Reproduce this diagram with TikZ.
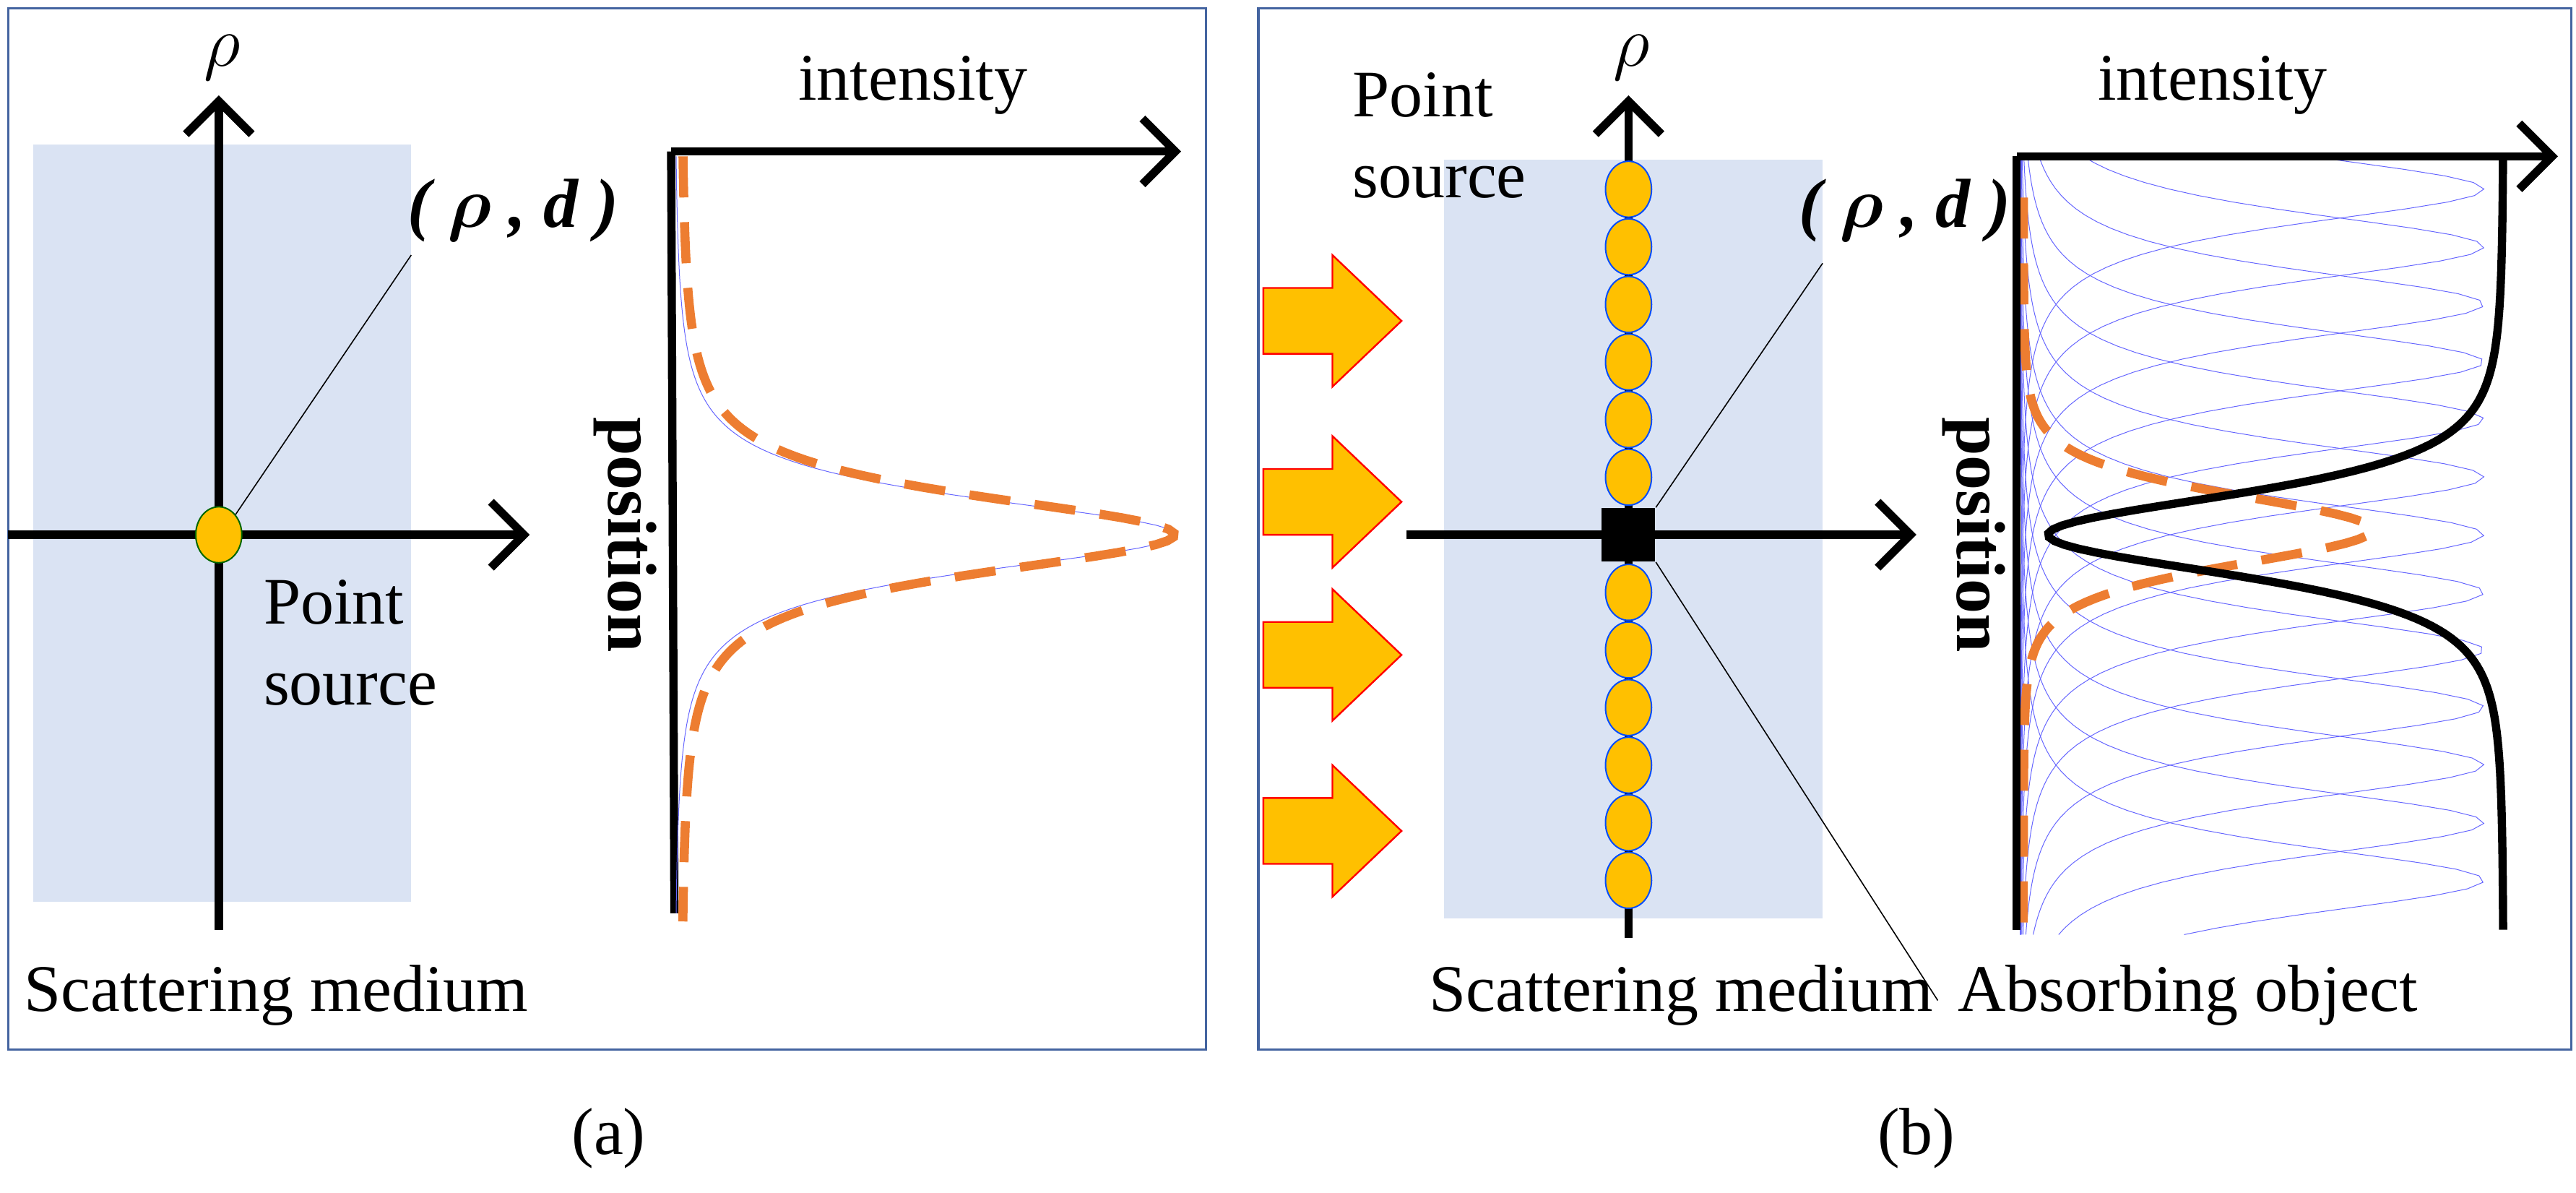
\documentclass[tikz,border=0pt]{standalone}
\usepackage{amsmath}
\usepackage{fontspec}
\setmainfont{LiberationSerif}[Extension=.ttf, UprightFont=*-Regular, BoldFont=*-Bold, ItalicFont=*-Italic, BoldItalicFont=*-BoldItalic]
\usetikzlibrary{arrows.meta,shapes.geometric}
\definecolor{medium}{RGB}{218,227,243}
\definecolor{frameblue}{RGB}{68,100,160}
\definecolor{gold}{RGB}{255,192,0}
\definecolor{dashorange}{RGB}{237,125,49}
\tikzset{
  axis/.style={line width=1mm, -{Straight Barb[length=4mm,width=8mm,line width=1mm]}},
  lbl/.style={font=\fontsize{23}{28}\selectfont, inner sep=0pt},
  orange dash/.style={dashorange, line width=1.1mm, dash pattern=on 5mm off 3mm},
  thin blue/.style={blue!60, line width=0.25pt},
  source/.style={ellipse, minimum width=5.6mm, minimum height=6.8mm, fill=gold, draw=#1, line width=0.5pt, inner sep=0pt},
}
\begin{document}
\begin{tikzpicture}[x=0.2mm, y=-0.2mm]
        \useasboundingbox (0,0) rectangle (1566,725);
        % panel (a)
        \draw[frameblue, line width=0.8pt] (5,5) rectangle (733,638);
        \fill[medium] (20,88) rectangle (250,548);
        \coordinate (aS) at (133,565); \coordinate (aN) at (133,58);
        \coordinate (aW) at (5,325); \coordinate (aE) at (322,325);
        \draw[axis] (aS) -- (aN);
        \draw[axis] (aW) -- (aE);
        \node[lbl] (arho) at (135,35) {$\rho$};
        \node[source=green!40!black] (apt) at (133,325) {};
        \node[lbl, font=\fontsize{24}{28}\selectfont\bfseries\itshape] (apos) at (312,128) {( $\boldsymbol{\rho}$ , d )};
        \coordinate (atip) at (250,155);
        \draw[line width=0.4pt] (apt.north east) -- (atip);
        \node[lbl, align=left, anchor=north west] (asrc) at (160,352) {Point\\source};
        \node[lbl] (amed) at (168,605) {Scattering medium};
        \coordinate (aI0) at (408,92); \coordinate (aIx) at (718,92); \coordinate (aIb) at (410,555);
        \draw[axis] (aI0) -- (aIx);
        \draw[line width=1mm] (aI0) -- (aIb);
        \node[lbl] (aint) at (555,52) {intensity};
        \node[lbl, rotate=-90, font=\fontsize{24}{28}\selectfont\bfseries] (apo) at (380,325) {position};
        \draw[thin blue] plot[domain=95:555, samples=200, variable=\t] ({410+305/(1+((\t-325)/35)^2)^1.5}, \t);
        \draw[orange dash] plot[domain=95:560, samples=200, variable=\t] ({414+300/(1+((\t-325)/37)^2)^1.5}, \t);
        \node[lbl] (alab) at (370,692) {(a)};
        % panel (b)
        \draw[frameblue, line width=0.8pt] (765,5) rectangle (1563,638);
        \fill[medium] (878,97) rectangle (1108,558);
        \foreach \y in {195,305,398,505}
            \draw[red, fill=gold, line width=0.6pt] (768,\y-20) -- (810,\y-20) -- (810,\y-40) -- (852,\y) -- (810,\y+40) -- (810,\y+20) -- (768,\y+20) -- cycle;
        \coordinate (bS) at (990,570); \coordinate (bN) at (990,58);
        \coordinate (bW) at (855,325); \coordinate (bE) at (1165,325);
        \draw[axis] (bS) -- (bN);
        \draw[axis] (bW) -- (bE);
        \node[lbl] (brho) at (992,35) {$\rho$};
        \foreach \i in {1,...,6} {
            \node[source=blue!70!cyan] (up\i) at (990,325-35*\i) {};
            \node[source=blue!70!cyan] (dn\i) at (990,325+35*\i) {};
        }
        \node[fill=black, minimum size=6.5mm, inner sep=0pt] (obj) at (990,325) {};
        \node[lbl, align=left, anchor=north west] (bsrc) at (822,44) {Point\\source};
        \node[lbl, font=\fontsize{24}{28}\selectfont\bfseries\itshape] (bpos) at (1158,128) {( $\boldsymbol{\rho}$ , d )};
        \coordinate (btip) at (1108,160);
        \draw[line width=0.4pt] (obj.north east) -- (btip);
        \coordinate (babs) at (1178,608);
        \draw[line width=0.4pt] (obj.south east) -- (babs);
        \node[lbl] (bmed) at (1022,605) {Scattering medium};
        \node[lbl] (bobj) at (1330,605) {Absorbing object};
        \begin{scope}
            \clip (1226,95) rectangle (1540,568);
            \foreach \c in {115,150,...,535}
                \draw[thin blue] plot[domain=95:568, samples=120, variable=\t] ({1228+282/(1+((\t-\c)/33)^2)^1.5}, \t);
        \end{scope}
        \draw[orange dash] plot[domain=120:565, samples=200, variable=\t] ({1230+212/(1+((\t-322)/50)^2)^3}, \t);
        \coordinate (bI0) at (1226,95); \coordinate (bIx) at (1555,95); \coordinate (bIb) at (1226,565);
        \draw[axis] (bI0) -- (bIx);
        \draw[line width=1mm] (bI0) -- (bIb);
        \draw[line width=1mm] plot[domain=95:565, samples=200, variable=\t] ({1522-277/(1+((\t-325)/45)^2)^2}, \t);
        \node[lbl] (bint) at (1345,52) {intensity};
        \node[lbl, rotate=-90, font=\fontsize{24}{28}\selectfont\bfseries] (bpo) at (1200,325) {position};
        \node[lbl] (blab) at (1165,692) {(b)};
\end{tikzpicture}
\end{document}
